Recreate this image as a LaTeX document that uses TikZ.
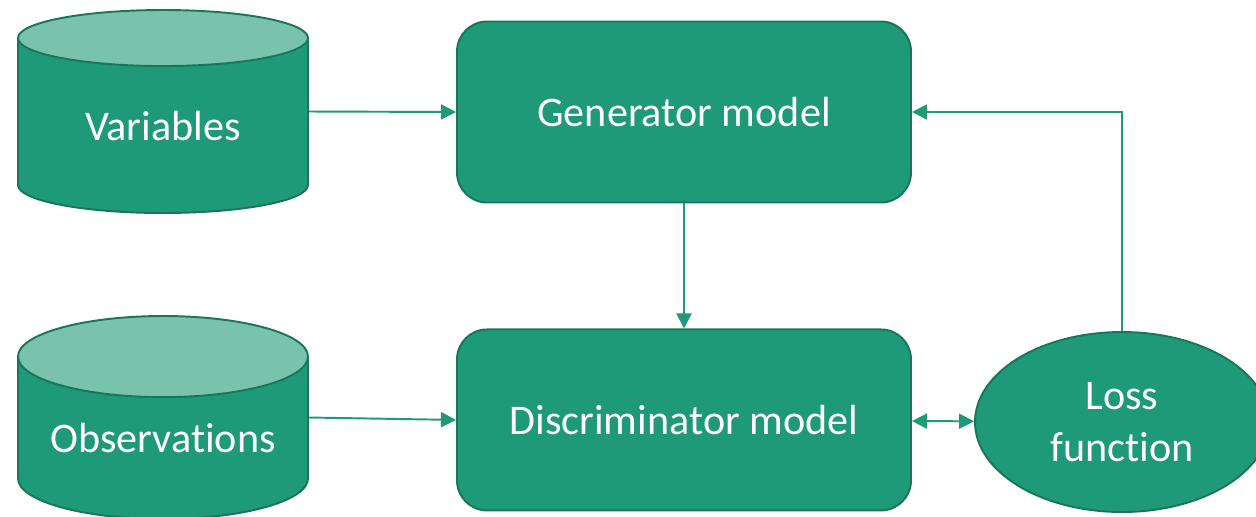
\documentclass[tikz,border=0pt]{standalone}
\usepackage{fontspec}
\setmainfont{Carlito}[Ligatures=NoCommon]
\usetikzlibrary{arrows.meta}
\usetikzlibrary{shapes.geometric}
\usetikzlibrary{positioning}

\definecolor{gangreen}{RGB}{30,154,120}
\definecolor{ganedge}{RGB}{25,118,90}
\definecolor{gantop}{RGB}{121,195,173}

\begin{document}
\begin{tikzpicture}[line width=1.1pt,>={Triangle[length=3mm,width=3mm]},
                      font=\fontsize{24}{29.5}\selectfont,
                      node distance=2.5cm and 2.98cm,
                      store/.style={cylinder,shape border rotate=90,aspect=0.36,draw=ganedge,
                                    cylinder uses custom fill,cylinder body fill=gangreen,cylinder end fill=gantop,
                                    minimum width=5.8cm,minimum height=4.06cm,text=white,inner sep=0,
                                    anchor=shape center},
                      model/.style={rectangle,rounded corners=6mm,draw=ganedge,fill=gangreen,text=white,
                                    minimum width=9.08cm,minimum height=3.62cm,align=center},
                      loss/.style={ellipse,draw=ganedge,fill=gangreen,text=white,align=center,
                                   minimum width=5.88cm,minimum height=3.6cm,inner sep=0},
                      flow/.style={draw=gangreen,->},
                      ]
    \useasboundingbox (0,0) rectangle (25.12,-10.32);
    \node[model] (gen) at (13.68,-2.24) {Generator model};
    \node[model,below=of gen] (disc) {Discriminator model};
    \node[store] (vars) at (3.26,-2.23) {Variables};
    \node[store] (obs) at (3.26,-8.35) {Observations};
    \node[loss] (lossfn) at (22.44,-8.44) {Loss\\function};

    \draw[flow] (vars.shape center -| vars.east) -- (gen.west);
    \draw[flow] (obs.shape center -| obs.east) -- (disc.west);
    \draw[flow] (gen) -- (disc);
    \draw[flow,<->] (disc) -- (lossfn);
    \draw[flow] (lossfn.north) |- (gen.east);
\end{tikzpicture}
\end{document}
